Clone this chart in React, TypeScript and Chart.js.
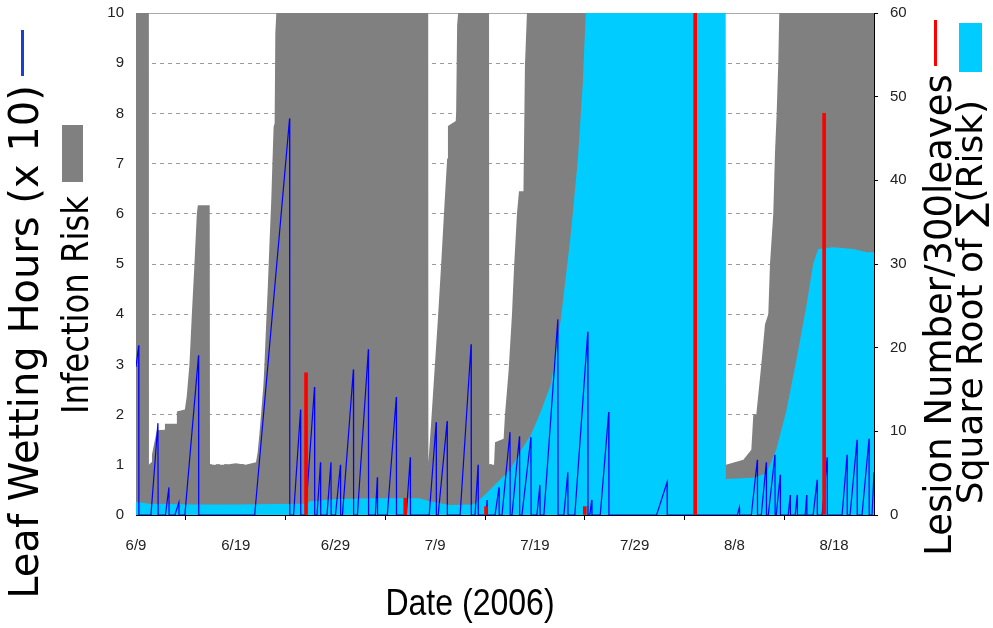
import React, { useEffect, useRef } from 'react';
import { Chart, registerables } from 'chart.js';

Chart.register(...registerables);

// x axis: days after 6/9/2006
const dateTickDays = [0, 10, 20, 30, 40, 50, 60, 70];
const dateTickLabels = ['6/9', '6/19', '6/29', '7/9', '7/19', '7/29', '8/8', '8/18'];

// Infection Risk (left axis, clipped at 10)
const riskDays = [
  0, 1.29, 1.3, 1.53, 1.6, 1.9, 2.1, 2.88, 2.9, 4.07, 4.1, 4.9, 5.08, 5.36, 5.6, 5.86, 6.1, 6.2, 7.39, 7.42,
  9.0, 10.0, 11.0, 12.03, 12.2, 12.37, 12.54, 12.78, 12.88, 13.05, 13.22, 13.39, 13.56, 13.66, 13.8, 13.9, 13.97, 14.07,
  29.3, 29.32, 29.6, 29.93, 30.27, 30.6, 30.95, 31.2, 31.28, 32.06, 32.1, 32.2, 32.3,
  35.4, 35.42, 35.9, 36.0, 36.86, 37.0, 37.36, 37.7, 37.9, 38.2, 38.4, 38.85, 39.0, 39.2,
  59.1, 59.15, 60.9, 61.7, 61.9, 62.2, 62.7, 63.07, 63.4, 63.57, 63.9, 64.07, 64.24, 64.4, 64.5, 74,
];
const riskValues = [
  10, 10, 1.0, 1.05, 1.2, 1.5, 1.69, 1.7, 1.82, 1.82, 2.06, 2.1, 2.35, 3.0, 4.0, 5.0, 6.0, 6.17, 6.17, 1.0,
  1.0, 1.03, 1.0, 1.05, 1.25, 1.6, 2.0, 2.6, 3.0, 3.8, 4.56, 5.44, 6.25, 6.9, 7.74, 7.8, 9.6, 10,
  10, 1.05, 1.86, 2.87, 3.9, 5.0, 6.25, 7.1, 7.75, 7.85, 8.0, 9.76, 10,
  10, 1.0, 1.0, 1.45, 1.52, 2.0, 2.87, 4.0, 4.9, 6.0, 6.45, 6.45, 8.95, 10,
  10, 1.0, 1.1, 1.3, 2.0, 2.0, 3.0, 3.8, 4.0, 5.0, 6.0, 7.2, 8.0, 9.0, 10, 10,
];

// Square Root of sum(Risk) (right axis, clipped at 60)
const sumRiskDays = [
  0, 0.5, 1.3, 3, 6, 10, 14, 17.2, 17.4, 20, 24, 28.4, 29.4, 31.45, 33.8, 34.8, 36.2, 37.5, 38.5, 39.6,
  40.6, 41.6, 42.6, 43.6, 44.3, 44.8, 45.1, 59.1, 59.15, 61.9, 63.2, 64.2, 65.2, 66.2, 67.25, 67.9, 68.4,
  69.9, 71.9, 73.3, 74,
];
const sumRiskRootValues = [
  1.55, 1.5, 1.35, 1.3, 1.25, 1.25, 1.3, 1.35, 1.65, 1.9, 2.0, 2.0, 1.65, 1.2, 1.25, 2.2, 3.85, 5.4, 7.5, 9.6,
  12.4, 15.6, 23.4, 33.6, 42.4, 51.6, 60, 60, 4.3, 4.45, 5.0, 7.8, 12.4, 18.4, 25.2, 30, 31.8,
  32.0, 31.8, 31.4, 31.4,
];

// Leaf Wetting Hours (x 10) (left axis)
const wetDays = [
  0, 0.27, 0.29, 1.5, 2.2, 2.22, 2.95, 3.3, 3.32, 3.9, 4.3, 4.32, 4.9, 6.27, 6.29,
  11.9, 15.4, 15.42, 15.8, 16.5, 16.52, 17.0, 17.9, 17.92, 18.15, 18.5, 18.52, 19.15, 19.55, 19.57,
  20.0, 20.5, 20.52, 20.7, 21.8, 21.82, 22.2, 23.3, 23.32, 24.0, 24.2, 24.22, 25.2, 26.1, 26.12,
  27.1, 27.5, 27.52, 29.4, 30.1, 30.12, 30.3, 31.2, 31.22, 32.5, 33.6, 33.62, 34.0, 34.3, 34.32,
  35.1, 35.2, 35.22, 36.0, 36.4, 36.42, 36.7, 37.5, 37.52, 37.7, 38.45, 38.47, 38.7, 39.6, 39.62,
  40.2, 40.5, 40.52, 40.9, 42.3, 42.32, 42.9, 43.3, 43.32, 44.0, 45.3, 45.32, 45.5, 45.7, 45.72,
  46.55, 47.4, 47.42, 52.2, 53.25, 53.27, 60.3, 60.5, 60.52, 61.7, 62.3, 62.32, 62.7, 63.2, 63.22,
  63.4, 64.07, 64.09, 64.2, 64.6, 64.62, 65.4, 65.6, 65.62, 66.1, 66.3, 66.32, 67.1, 67.25, 67.27,
  67.9, 68.3, 68.32, 68.8, 69.3, 69.32, 70.8, 71.3, 71.32, 71.6, 72.3, 72.32, 72.8, 73.5, 73.52,
  73.8, 74,
];
const wetValues = [
  2.95, 3.38, 0, 0, 1.83, 0, 0, 0.55, 0, 0, 0.25, 0, 0, 3.18, 0,
  0, 7.9, 0, 0, 2.1, 0, 0, 2.55, 0, 0, 1.05, 0, 0, 1.05, 0,
  0, 1.0, 0, 0, 2.9, 0, 0, 3.3, 0, 0, 0.75, 0, 0, 2.35, 0,
  0, 1.15, 0, 0, 1.85, 0, 0, 1.87, 0, 0, 3.4, 0, 0, 1.0, 0,
  0, 0.3, 0, 0, 0.55, 0, 0, 1.65, 0, 0, 1.57, 0, 0, 1.55, 0,
  0, 0.6, 0, 0, 3.9, 0, 0, 0.85, 0, 0, 3.65, 0, 0, 0.3, 0,
  0, 2.05, 0, 0, 0.65, 0, 0, 0.15, 0, 0, 1.1, 0, 0, 1.05, 0,
  0, 1.2, 0, 0, 0.8, 0, 0, 0.4, 0, 0, 0.4, 0, 0, 0.4, 0,
  0, 0.7, 0, 0, 1.15, 0, 0, 1.2, 0, 0, 1.5, 0, 0, 1.52, 0,
  0, 0.85,
];

// Lesion Number / 300 leaves (right axis)
const lesionDays = [17.05, 27.0, 35.1, 45.0, 56.07, 69.0];
const lesionValues = [17, 2, 1, 1, 60, 48];

const GRAY = '#808080';
const CYAN = '#00ccff';
const BLUE = '#0000ff';
const RED = '#ff0000';

const zip = (xs: number[], ys: number[]) => xs.map((x, i) => ({ x, y: ys[i] }));

const decorPlugin = {
  id: 'decor',
  beforeDatasetsDraw(chart: any) {
    const { ctx, chartArea } = chart;
    ctx.save();
    ctx.strokeStyle = '#a8a8a8';
    ctx.lineWidth = 1;
    ctx.beginPath();
    ctx.moveTo(chartArea.left, chartArea.top + 0.5);
    ctx.lineTo(chartArea.right, chartArea.top + 0.5);
    ctx.stroke();
    ctx.restore();
  },
  afterDraw(chart: any) {
    const ctx = chart.ctx;
    ctx.save();
    const vtext = (t: string, x: number, y: number, font: string, squeeze = 1) => {
      ctx.save();
      ctx.translate(x, y);
      ctx.rotate(-Math.PI / 2);
      ctx.scale(squeeze, 1);
      ctx.font = font;
      ctx.fillStyle = '#000';
      ctx.textAlign = 'center';
      ctx.textBaseline = 'middle';
      ctx.fillText(t, 0, 0);
      ctx.restore();
    };
    const fam = '"DejaVu Sans", Verdana, sans-serif';
    // left legend symbols and titles
    ctx.fillStyle = '#1a3fd0';
    ctx.fillRect(21, 30, 3, 46);
    vtext('Leaf Wetting Hours (x 10)', 28, 342, '40px ' + fam);
    ctx.fillStyle = GRAY;
    ctx.fillRect(62, 125, 21, 57);
    vtext('Infection Risk', 78, 305, '38px ' + fam, 0.85);
    // right legend symbols and titles
    ctx.fillStyle = RED;
    ctx.fillRect(934, 20, 3, 46);
    vtext('Lesion Number/300leaves', 941, 315, '37px ' + fam);
    ctx.fillStyle = CYAN;
    ctx.fillRect(959, 23, 23, 49);
    vtext('Square Root of \u2211(Risk)', 973, 302, '36px ' + fam);
    // x title (narrowed sans)
    ctx.save();
    ctx.translate(470, 605);
    ctx.scale(0.89, 1);
    ctx.font = '36px "Liberation Sans", Arial, sans-serif';
    ctx.fillStyle = '#000';
    ctx.textAlign = 'center';
    ctx.textBaseline = 'middle';
    ctx.fillText('Date (2006)', 0, 0);
    ctx.restore();
    ctx.restore();
  },
};

export default function App() {
  const ref = useRef<HTMLCanvasElement>(null);
  useEffect(() => {
    if (!ref.current) return;
    const tickFont = { family: '"Liberation Sans", Arial, sans-serif', size: 15 };
    const chart = new Chart(ref.current, {
      type: 'line',
      data: {
        datasets: [
          {
            type: 'bar',
            label: 'Lesion Number/300leaves',
            data: zip(lesionDays, lesionValues),
            xAxisID: 'x',
            yAxisID: 'y2',
            backgroundColor: RED,
            borderWidth: 0,
            barThickness: 3,
            order: 0,
          } as any,
          {
            label: 'Leaf Wetting Hours (x 10)',
            data: zip(wetDays, wetValues),
            xAxisID: 'x',
            yAxisID: 'y',
            borderColor: BLUE,
            borderWidth: 1.2,
            pointRadius: 0,
            tension: 0,
            fill: false,
            order: 1,
          },
          {
            label: 'Square Root of Sum(Risk)',
            data: zip(sumRiskDays, sumRiskRootValues),
            xAxisID: 'x',
            yAxisID: 'y2',
            borderWidth: 0,
            borderColor: CYAN,
            backgroundColor: CYAN,
            pointRadius: 0,
            tension: 0,
            fill: 'origin',
            order: 2,
          },
          {
            label: 'Infection Risk',
            data: zip(riskDays, riskValues),
            xAxisID: 'x',
            yAxisID: 'y',
            borderWidth: 0,
            borderColor: GRAY,
            backgroundColor: GRAY,
            pointRadius: 0,
            tension: 0,
            fill: 'origin',
            order: 3,
          },
        ],
      },
      options: {
        responsive: false,
        devicePixelRatio: 1,
        animation: false,
        events: [],
        layout: { padding: { top: 13, left: 0, right: 0, bottom: 0 } },
        plugins: { legend: { display: false }, tooltip: { enabled: false } },
        scales: {
          x: {
            type: 'linear',
            min: 0,
            max: 74,
            offset: false,
            afterFit: (s: any) => { s.height = 113; s.paddingLeft = 0; s.paddingRight = 0; },
            afterBuildTicks: (s: any) => { s.ticks = dateTickDays.map((v) => ({ value: v })); },
            ticks: {
              callback: (v: any) => { const i = dateTickDays.indexOf(Number(v)); return i >= 0 ? dateTickLabels[i] : ''; },
              color: '#222',
              font: tickFont,
              padding: 17,
              maxRotation: 0,
              autoSkip: false,
            },
            grid: { drawOnChartArea: false, drawTicks: true, tickLength: 5, color: '#000' },
            border: { color: '#000', width: 1 },
          },
          y: {
            type: 'linear',
            position: 'left',
            min: 0,
            max: 10,
            afterFit: (s: any) => { s.width = 136; s.paddingTop = 0; s.paddingBottom = 0; },
            ticks: { stepSize: 1, color: '#222', font: tickFont, padding: 12 },
            grid: { color: '#9a9a9a', drawTicks: false, lineWidth: 1 },
            border: { display: false, dash: [4, 4] },
          },
          y2: {
            type: 'linear',
            position: 'right',
            min: 0,
            max: 60,
            afterFit: (s: any) => { s.width = 119; s.paddingTop = 0; s.paddingBottom = 0; },
            ticks: { stepSize: 10, color: '#222', font: tickFont, padding: 12 },
            grid: { drawOnChartArea: false, drawTicks: true, tickLength: 4, color: '#000' },
            border: { color: '#000', width: 1 },
          },
        },
      } as any,
      plugins: [decorPlugin],
    });
    return () => chart.destroy();
  }, []);
  return (
    <div style={{ position: 'absolute', left: 0, top: 0, width: 993, height: 628, background: '#fff' }}>
      <canvas ref={ref} width={993} height={628} style={{ display: 'block' }} />
    </div>
  );
}
